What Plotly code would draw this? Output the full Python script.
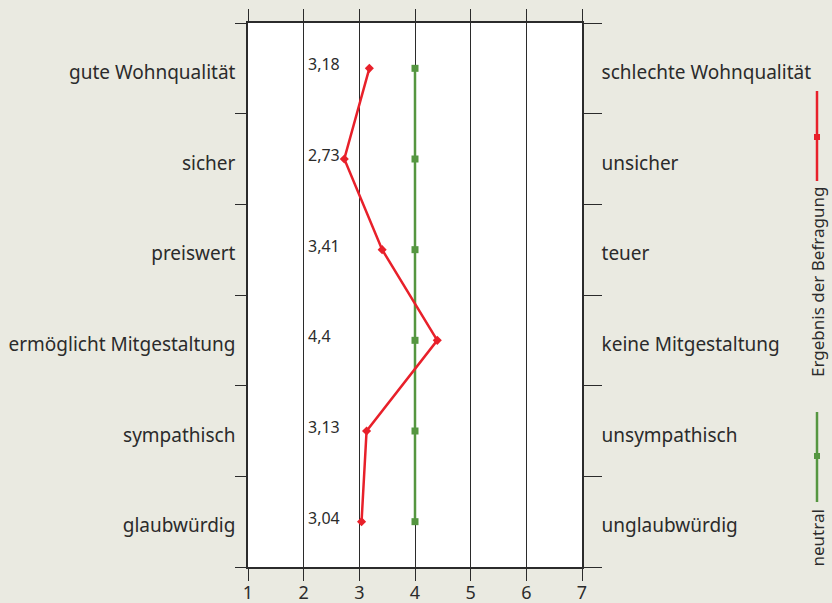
import plotly.graph_objects as go

left_labels = ["gute Wohnqualität", "sicher", "preiswert", "ermöglicht Mitgestaltung", "sympathisch", "glaubwürdig"]
right_labels = ["schlechte Wohnqualität", "unsicher", "teuer", "keine Mitgestaltung", "unsympathisch", "unglaubwürdig"]
survey_values = [3.18, 2.73, 3.41, 4.4, 3.13, 3.04]
value_text = ["3,18", "2,73", "3,41", "4,4", "3,13", "3,04"]
neutral_values = [4, 4, 4, 4, 4, 4]
x_ticks = [1, 2, 3, 4, 5, 6, 7]

BG = "#eaeae1"
INK = "#2b2b2b"
RED = "#e8202a"
GREEN = "#559640"
FONT = "Noto Sans"

pos = list(range(len(left_labels)))

fig = go.Figure()
fig.add_trace(go.Scatter(x=neutral_values, y=pos, mode="lines+markers",
                         line=dict(color=GREEN, width=2.5),
                         marker=dict(symbol="square", size=7, color=GREEN),
                         showlegend=False, hoverinfo="skip"))
fig.add_trace(go.Scatter(x=survey_values, y=pos, mode="lines+markers",
                         line=dict(color=RED, width=2.5),
                         marker=dict(symbol="diamond", size=7, color=RED),
                         showlegend=False, hoverinfo="skip"))
fig.add_trace(go.Scatter(x=survey_values, y=pos, yaxis="y2", mode="markers",
                         marker=dict(opacity=0), showlegend=False, hoverinfo="skip"))

for v, t, p in zip(survey_values, value_text, pos):
    fig.add_annotation(x=2, y=p, text=t, showarrow=False, xanchor="left",
                       xshift=2, yshift=4, font=dict(family=FONT, size=16, color=INK))

yrange = [5.5, -0.5]
minor_vals = [i - 0.5 for i in range(len(left_labels) + 1)]

fig.update_layout(
    width=832, height=603,
    margin=dict(l=248, r=250, t=23, b=36, autoexpand=False),
    paper_bgcolor=BG, plot_bgcolor="white",
    font=dict(family=FONT, size=19, color=INK),
    xaxis=dict(range=[1, 7], tickvals=x_ticks, ticktext=[str(v) for v in x_ticks],
               showgrid=True, gridcolor=INK, gridwidth=1.3, automargin=False,
               showline=True, linecolor=INK, linewidth=1.5, mirror="ticks",
               ticks="outside", ticklen=12, tickcolor=INK, tickwidth=1.3,
               ticklabelstandoff=-3,
               tickfont=dict(size=18), zeroline=False, fixedrange=True),
    yaxis=dict(range=yrange, tickvals=pos, ticktext=left_labels, ticks="",
               ticklabelstandoff=7, ticklabelshift=-4, automargin=False,
               showgrid=False, zeroline=False, showline=True, linecolor=INK, linewidth=1.5,
               minor=dict(tickmode="array", tickvals=minor_vals, ticks="outside",
                          ticklen=11, tickcolor=INK, tickwidth=1.3, showgrid=False)),
    yaxis2=dict(range=yrange, overlaying="y", side="right", tickvals=pos,
                ticktext=right_labels, ticks="", ticklabelstandoff=14, ticklabelshift=-4,
                automargin=False,
                showgrid=False, zeroline=False, showline=True, linecolor=INK, linewidth=1.5,
                minor=dict(tickmode="array", tickvals=minor_vals, ticks="outside",
                           ticklen=18, tickcolor=INK, tickwidth=1.3, showgrid=False)),
)

# Vertical legend on the right
lx = 1 + 235 / 334
def py(pix):
    return 1 - (pix - 23) / 544

fig.add_shape(type="line", xref="paper", yref="paper", x0=lx, x1=lx,
              y0=py(91), y1=py(181), line=dict(color=RED, width=2.5))
fig.add_shape(type="rect", xref="paper", yref="paper",
              x0=lx - 3 / 334, x1=lx + 3 / 334, y0=py(134), y1=py(140),
              line=dict(width=0), fillcolor=RED)
fig.add_annotation(xref="paper", yref="paper", x=lx, y=py(185),
                   text="Ergebnis der Befragung", textangle=-90, showarrow=False,
                   xanchor="center", yanchor="top", font=dict(family=FONT, size=17, color=INK))
fig.add_shape(type="line", xref="paper", yref="paper", x0=lx, x1=lx,
              y0=py(412), y1=py(502), line=dict(color=GREEN, width=2.5))
fig.add_shape(type="rect", xref="paper", yref="paper",
              x0=lx - 3 / 334, x1=lx + 3 / 334, y0=py(453), y1=py(459),
              line=dict(width=0), fillcolor=GREEN)
fig.add_annotation(xref="paper", yref="paper", x=lx, y=py(508),
                   text="neutral", textangle=-90, showarrow=False,
                   xanchor="center", yanchor="top", font=dict(family=FONT, size=17, color=INK))

fig.write_html("out.html", config={"displayModeBar": False},
               post_script="document.body.style.margin='0';document.body.style.overflow='hidden';")
